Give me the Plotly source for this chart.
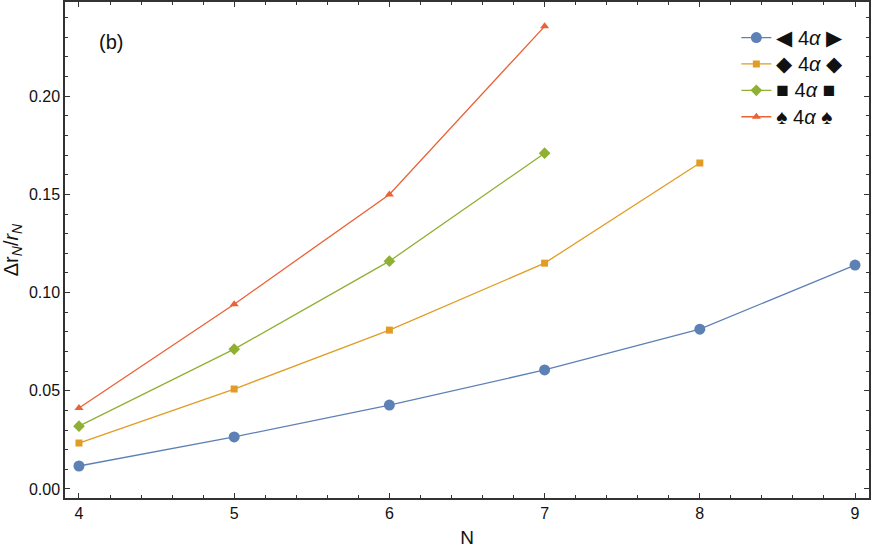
import plotly.graph_objects as go

# Values
n_values = [4, 5, 6, 7, 8, 9]
series_names = ["◀ 4<i>α</i> ▶", "◆ 4<i>α</i> ◆", "■ 4<i>α</i> ■", "♠ 4<i>α</i> ♠"]
blue_vals = [0.0117, 0.0265, 0.0427, 0.0606, 0.0814, 0.1140]
orange_vals = [0.0234, 0.0509, 0.0809, 0.1150, 0.1660]
green_vals = [0.0320, 0.0712, 0.1160, 0.1710]
red_vals = [0.0412, 0.0941, 0.1500, 0.2356]

colors = ["#5E81B5", "#E19C24", "#8FB032", "#EB6235"]
symbols = ["circle", "square", "diamond", "triangle-up"]
sizes = [11, 7, 9, 8]


def legend_label(name):
    # enlarge the outer glyphs a bit, as in the reference legend
    left, mid, right = name.split(" ", 2)[0], " 4<i>α</i> ", name.split(" ")[-1]
    big = "<span style='font-size:21px'>{}</span>"
    return big.format(left) + "<span style='font-size:20px'>" + mid + "</span>" + big.format(right)


fig = go.Figure()
for name, vals, col, sym, sz in zip(series_names,
                                    [blue_vals, orange_vals, green_vals, red_vals],
                                    colors, symbols, sizes):
    fig.add_trace(go.Scatter(
        x=n_values[:len(vals)], y=vals, name=legend_label(name), mode="lines+markers",
        line=dict(color=col, width=1.3),
        marker=dict(color=col, symbol=sym, size=sz),
        cliponaxis=False,
    ))

axis_common = dict(
    showgrid=False, zeroline=False, showline=True, linecolor="#333", linewidth=1.5,
    mirror="allticks", ticks="inside", ticklen=5, tickcolor="#333",
    tickfont=dict(size=16, color="#111"), automargin=False,
)
fig.update_xaxes(range=[3.91, 9.09], dtick=1, title=dict(text="N", font=dict(size=19), standoff=10),
                 minor=dict(ticks="inside", ticklen=3, dtick=0.2, tickcolor="#333"),
                 **axis_common)
fig.update_yaxes(range=[-0.0046, 0.248], dtick=0.05, tickformat=".2f",
                 title=dict(text="Δr<sub><i>N</i></sub>/<i>r<sub>N</sub></i>", font=dict(size=20), standoff=6),
                 minor=dict(ticks="inside", ticklen=3, dtick=0.01, tickcolor="#333"),
                 **axis_common)

fig.add_annotation(x=0.04, y=0.945, xref="paper", yref="paper", text="(b)",
                   showarrow=False, font=dict(size=20, color="#111"), xanchor="left")

fig.update_layout(
    width=872, height=550,
    margin=dict(l=65, r=3, t=2, b=52),
    plot_bgcolor="white", paper_bgcolor="white",
    font=dict(family="Liberation Sans, Arial, sans-serif", color="#111"),
    legend=dict(x=0.835, y=0.965, xanchor="left", yanchor="top",
                bgcolor="rgba(0,0,0,0)", font=dict(size=18), itemwidth=30,
                tracegroupgap=0),
)

# drop the browser's default page margin so the figure sits at (0, 0)
fig.write_html("out.html", config={"displayModeBar": False},
               post_script="document.body.style.margin='0';")
